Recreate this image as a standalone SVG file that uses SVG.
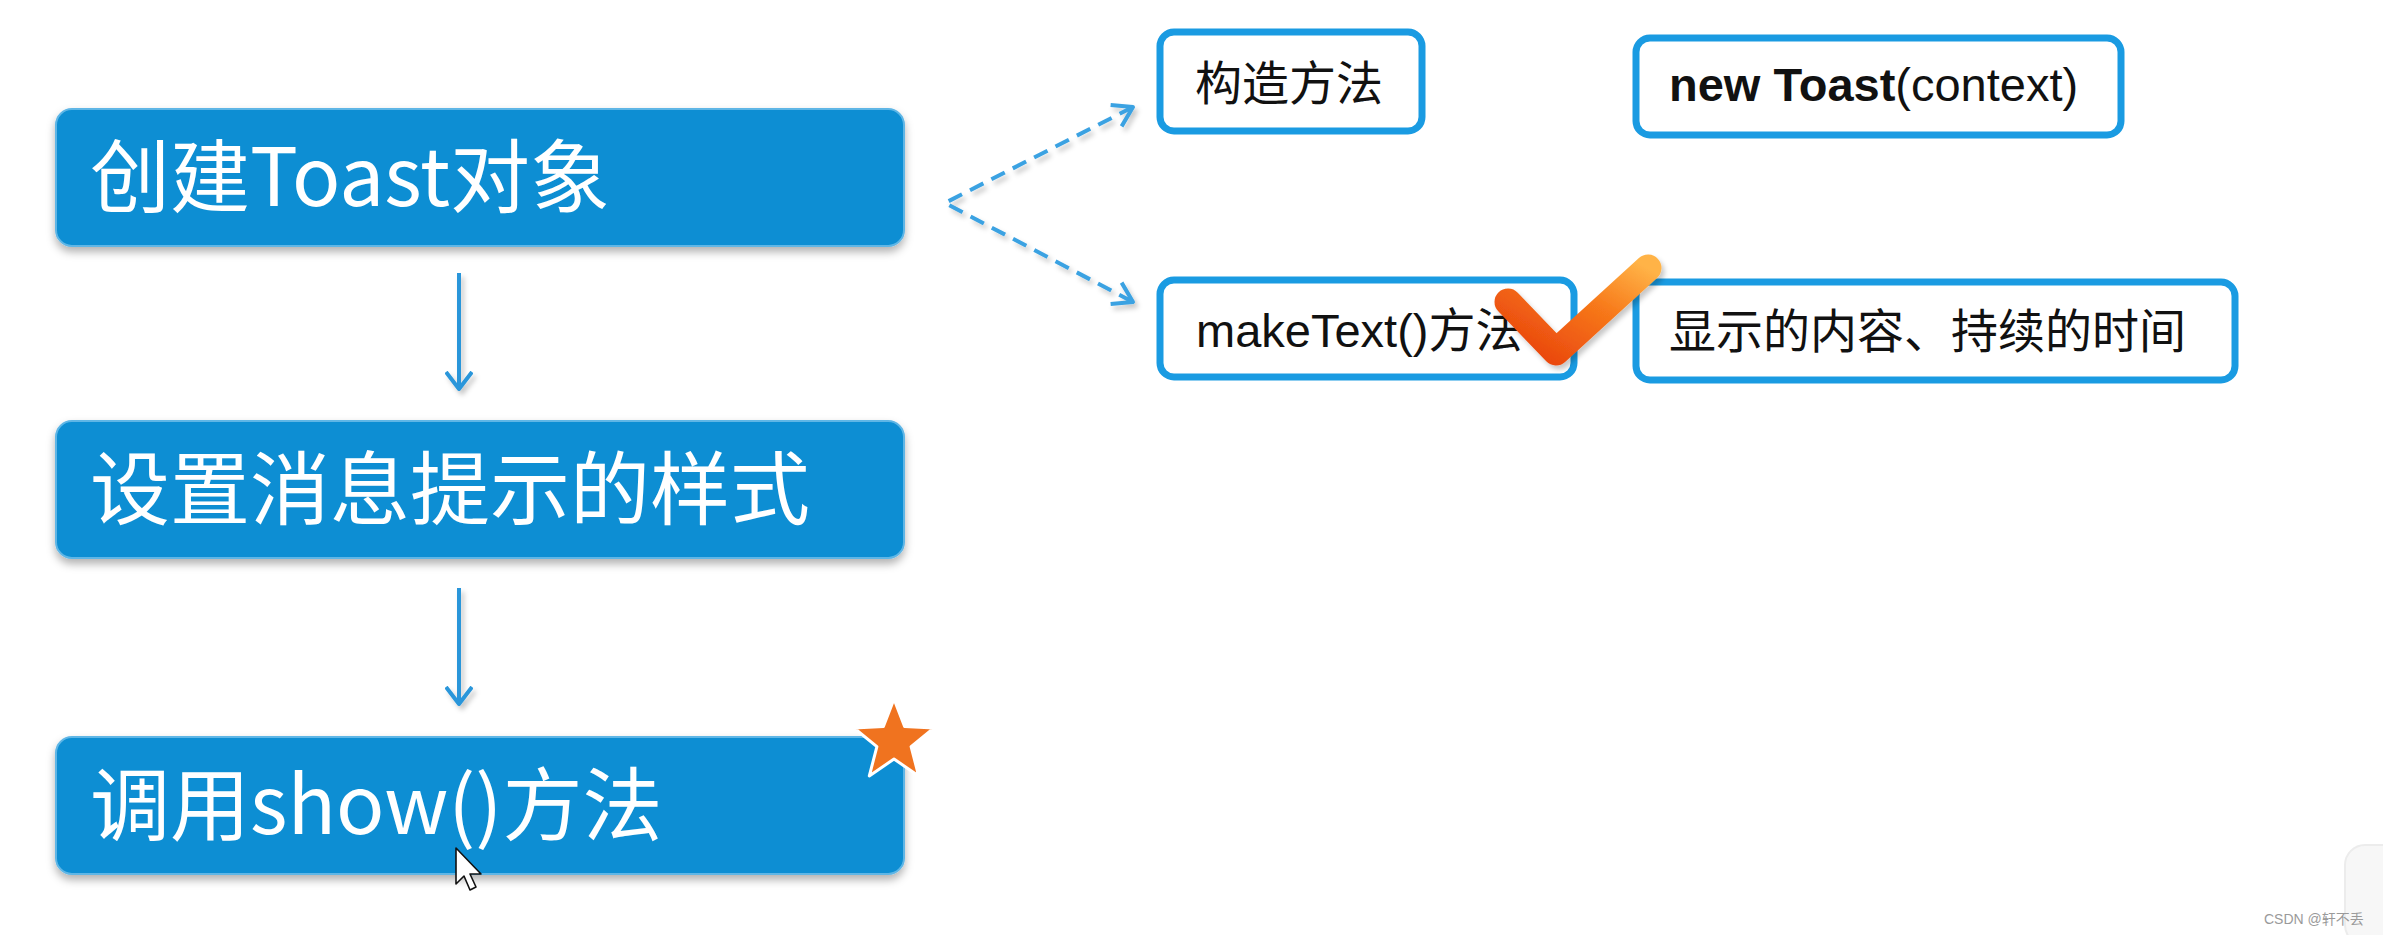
<svg xmlns="http://www.w3.org/2000/svg" width="2383" height="935" viewBox="0 0 2383 935">
<defs>
<style>
.main{fill:#0a8ed3;stroke:#5fb6e6;stroke-width:2}
.mtxt{font-family:"Noto Sans CJK SC","Noto Sans",sans-serif;font-size:80px;fill:#ffffff}
.sub{fill:#ffffff;stroke:#1a9be2;stroke-width:7}
.stxt{font-family:"Liberation Sans","Noto Sans CJK SC",sans-serif;font-size:47px;fill:#111111}
.varr{stroke:#2a96da;stroke-width:4;fill:none}
.darr{stroke:#3ba2e2;stroke-width:4;fill:none;stroke-dasharray:15 9}
</style>
<filter id="sh" x="-5%" y="-10%" width="110%" height="130%">
<feDropShadow dx="0" dy="5" stdDeviation="4" flood-color="#000" flood-opacity="0.3"/>
</filter>
<filter id="ash" filterUnits="userSpaceOnUse" x="0" y="0" width="2383" height="935">
<feDropShadow dx="3" dy="4" stdDeviation="2.5" flood-color="#000" flood-opacity="0.22"/>
</filter>
<marker id="va" viewBox="0 0 20 28" refX="18" refY="14" markerWidth="20" markerHeight="28" markerUnits="userSpaceOnUse" orient="auto">
<path d="M1,1 L18,14 L1,27" fill="none" stroke="#2a96da" stroke-width="4" stroke-linejoin="round"/>
</marker>
<marker id="da" viewBox="0 0 24 28" refX="21" refY="14" markerWidth="24" markerHeight="28" markerUnits="userSpaceOnUse" orient="auto">
<path d="M2,2 L21,14 L2,26" fill="none" stroke="#3ba2e2" stroke-width="4" stroke-linejoin="round"/>
</marker>
<linearGradient id="chk" x1="0" y1="1" x2="1" y2="0">
<stop offset="0" stop-color="#e8400c"/>
<stop offset="0.6" stop-color="#f7791a"/>
<stop offset="1" stop-color="#ffb347"/>
</linearGradient>
</defs>
<rect width="2383" height="935" fill="#ffffff"/>

<g id="connectors" filter="url(#ash)">
<line class="varr" x1="459" y1="273" x2="459" y2="389" marker-end="url(#va)"/>
<line class="varr" x1="459" y1="588" x2="459" y2="704" marker-end="url(#va)"/>
<polyline class="darr" points="1133,107 945,203 1133,302"/>
<line x1="1100" y1="124" x2="1133" y2="107" stroke="#ffffff" stroke-opacity="0" stroke-width="1" marker-end="url(#da)"/>
<line x1="1100" y1="285" x2="1133" y2="302" stroke="#ffffff" stroke-opacity="0" stroke-width="1" marker-end="url(#da)"/>
</g>

<g id="node-create">
<rect class="main" x="56" y="109" width="848" height="137" rx="16" filter="url(#sh)"/>
<text class="mtxt" x="90" y="206">创建Toast对象</text>
</g>
<g id="node-style">
<rect class="main" x="56" y="421" width="848" height="137" rx="16" filter="url(#sh)"/>
<text class="mtxt" x="90" y="518">设置消息提示的样式</text>
</g>
<g id="node-show">
<rect class="main" x="56" y="737" width="848" height="137" rx="16" filter="url(#sh)"/>
<text class="mtxt" x="90" y="834">调用show()方法</text>
</g>

<g id="node-constructor">
<rect class="sub" x="1160" y="32" width="262" height="99" rx="14"/>
<text class="stxt" x="1195" y="100">构造方法</text>
</g>
<g id="node-newtoast">
<rect class="sub" x="1636" y="38" width="485" height="97" rx="14"/>
<text class="stxt" x="1669" y="101"><tspan font-weight="bold">new Toast</tspan>(context)</text>
</g>
<g id="node-maketext">
<rect class="sub" x="1160" y="280" width="414" height="97" rx="14"/>
<text class="stxt" x="1196" y="347">makeText()方法</text>
</g>
<g id="node-content">
<rect class="sub" x="1636" y="282" width="599" height="98" rx="14"/>
<text class="stxt" x="1669" y="348">显示的内容、持续的时间</text>
</g>

<g id="checkmark">
<path d="M1508,302 L1556,352 L1648,268" fill="none" stroke="url(#chk)" stroke-width="27" stroke-linecap="round" stroke-linejoin="round" filter="url(#ash)"/>
</g>

<g id="star">
<polygon points="894,699 904.6,726.4 934,728 911.1,746.6 918.7,776 894,759 869.3,776 876.9,746.6 854,728 883.4,726.4" fill="#f0731f" stroke="#ffffff" stroke-width="3" stroke-linejoin="round"/>
</g>

<g id="cursor">
<path d="M456,848 L456,884 L464,876 L470,890 L476,887 L470,874 L481,874 Z" fill="#ffffff" stroke="#111111" stroke-width="1.6" stroke-linejoin="round"/>
</g>

<rect x="2345" y="845" width="60" height="100" rx="20" fill="#f7f7f7" stroke="#ececec" stroke-width="2"/>
<text x="2264" y="924" font-family="Liberation Sans,'Noto Sans CJK SC',sans-serif" font-size="14" fill="#9a9a9a">CSDN @轩不丢</text>
</svg>
